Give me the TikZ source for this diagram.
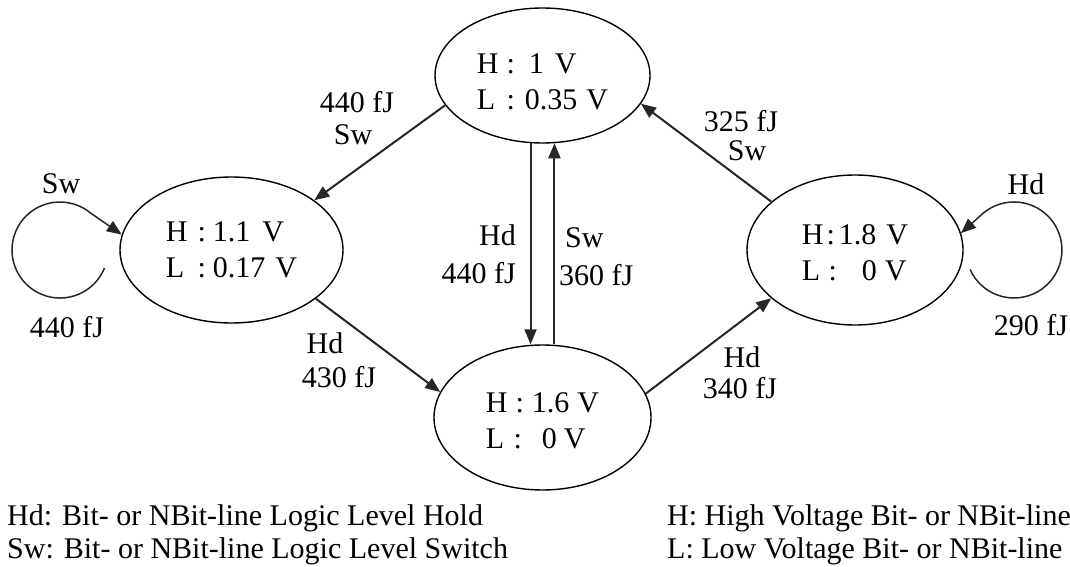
\documentclass[tikz,border=0pt]{standalone}
\usepackage{fontspec}
\setmainfont{Liberation Serif}
\usetikzlibrary{arrows.meta,shapes.geometric}
\begin{document}
\begin{tikzpicture}[x=1pt,y=1pt,
  state/.style={draw, ellipse, line width=1.4pt, inner sep=0pt, align=left,
    font=\fontsize{30}{36}\selectfont},
  tr/.style={line width=2pt, draw=black!85, -{Triangle[length=15pt,width=12pt]}},
  selfloop/.style={line width=1.5pt, draw=black!85, -{Triangle[length=15pt,width=12pt]}},
  lbl/.style={font=\fontsize{30}{36}\selectfont, inner sep=0pt, anchor=base},
  legend/.style={font=\fontsize{30}{36}\selectfont, inner sep=0pt, anchor=base west},
]
\useasboundingbox (0,0) rectangle (1070,566);

% bit-line voltage states
\node[state, minimum width=215pt, minimum height=135pt] (T) at (542.5,490.5)
  {\rule{0pt}{33pt}H\hspace{8pt}:\hspace{14pt}1\hspace{11pt}V\\
   \makebox[21.7pt][l]{L}\hspace{8pt}:\hspace{10pt}0.35\hspace{9pt}V};
\node[state, minimum width=223pt, minimum height=146pt] (Lf) at (231.5,316)
  {H\hspace{10pt}:\hspace{7pt}1.1\hspace{12pt}V\\
   \makebox[21.7pt][l]{L}\hspace{10pt}:\hspace{7pt}0.17\hspace{10pt}V};
\node[state, minimum width=217pt, minimum height=145pt] (B) at (542.5,148.5)
  {\rule{0pt}{26pt}H\hspace{8pt}:\hspace{8pt}1.6\hspace{8pt}V\\
   \makebox[21.7pt][l]{L}\hspace{6pt}:\hspace{20pt}0\hspace{7pt}V};
\node[state, minimum width=216pt, minimum height=150pt] (R) at (855,316)
  {\rule{0pt}{25pt}H\hspace{3pt}:\hspace{4pt}1.8\hspace{10pt}V\\
   \makebox[21.7pt][l]{L}\hspace{5pt}:\hspace{25pt}0\hspace{8pt}V};

% transitions between states
\draw[tr] (T.197) -- (Lf.31);
\draw[tr] (Lf.-30) -- (B.166);
\draw[tr] (T.260) -- (T.260 |- B.north);
\draw[tr] (T.280 |- B.north) -- (T.280);
\draw[tr] (B.13) -- (R.210);
\draw[tr] (R.150) -- (T.-16);

% self loops
\coordinate (loopL) at (104.5,298);
\coordinate (loopR) at (970.1,296.5);
\draw[selfloop] (loopL) arc[start angle=-22, end angle=-310, radius=48] -- (Lf.172);
\draw[selfloop] (loopR) arc[start angle=204, end angle=490, radius=48] -- (R.9);

% transition labels
\node[lbl] (sLa) at (61,373) {Sw};
\node[lbl] (sLb) at (67,229) {440 fJ};
\node[lbl] (sRa) at (1026,371) {Hd};
\node[lbl] (sRb) at (1031,231) {290 fJ};
\node[lbl] (tla) at (357,453) {440 fJ};
\node[lbl] (tlb) at (353,421) {Sw};
\node[lbl] (lba) at (325,213) {Hd};
\node[lbl] (lbb) at (339,179) {430 fJ};
\node[lbl] (rta) at (741,434) {325 fJ};
\node[lbl] (rtb) at (747,406) {Sw};
\node[lbl] (bra) at (742,199) {Hd};
\node[lbl] (brb) at (740,168) {340 fJ};
\node[lbl, anchor=base east] (dna) at (516,321) {Hd};
\node[lbl, anchor=base east] (dnb) at (516,283) {440 fJ};
\node[lbl, anchor=base west] (upa) at (565,319) {Sw};
\node[lbl, anchor=base west] (upb) at (559,281) {360 fJ};

% legend
\node[legend] (kHd) at (7,41) {Hd: Bit- or NBit-line Logic Level Hold};
\node[legend] (kSw) at (7,8) {Sw: Bit- or NBit-line Logic Level Switch};
\node[legend] (kH) at (667,41) {H: High Voltage Bit- or NBit-line};
\node[legend] (kL) at (667,8) {L: Low Voltage Bit- or NBit-line};
\end{tikzpicture}
\end{document}
